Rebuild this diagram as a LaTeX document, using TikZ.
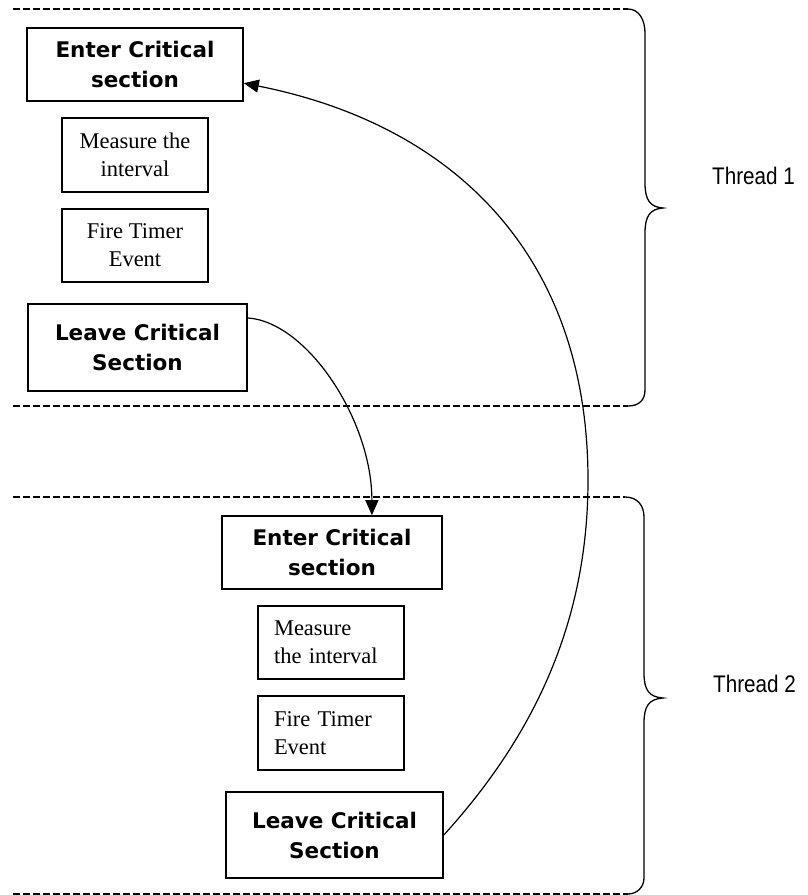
\documentclass[tikz,border=0pt]{standalone}
\usepackage{fontspec}
\setmainfont{Liberation Serif}
\newfontfamily\boxsans{DejaVu Sans}
\newfontfamily\labelsans{Liberation Sans}[FakeStretch=0.86]
\usetikzlibrary{arrows.meta,calc}

\begin{document}
\begin{tikzpicture}[x=1pt,y=-1pt,
  stagebox/.style={draw, line width=1.6pt, inner sep=0pt, align=center},
  keybox/.style={stagebox, font=\boxsans\bfseries\fontsize{21.5}{30}\selectfont},
  stepbox/.style={stagebox, font=\fontsize{22.5}{28}\selectfont},
  leftstep/.style={stepbox, align=left, inner xsep=16pt, text width=114pt},
  flow/.style={line width=1.2pt, -{Triangle[length=15pt,width=13pt]}},
  bound/.style={line width=1.3pt, dash pattern=on 6.5pt off 3.5pt},
  brace/.style={line width=1.3pt},
  threadlabel/.style={anchor=west, inner sep=0pt, font=\labelsans\fontsize{24}{24}\selectfont}]

\useasboundingbox (0,0) rectangle (808,895);

% ---- Thread 1 ----
\node[keybox, minimum width=216pt, minimum height=73pt] (e1) at (135,64.5) {Enter Critical\\section};
\node[stepbox, minimum width=146pt, minimum height=74pt] (m1) at (135,155) {Measure the\\interval};
\node[stepbox, minimum width=146pt, minimum height=73pt] (f1) at (135,245.5) {Fire Timer\\Event};
\node[keybox, minimum width=219pt, minimum height=87pt] (l1) at (137.5,347.5) {Leave Critical\\Section};

\draw[bound] (13,9) -- (628,9);
\draw[brace] (628,9) .. controls (639,9) and (645,20) .. (645,33)
  -- (645,183) .. controls (645,200) and (650,207) .. (663,208)
  .. controls (650,209) and (645,216) .. (645,233)
  -- (645,390) .. controls (645,400) and (639,406) .. (628,406);
\draw[bound] (13,406) -- (628,406);
\node[threadlabel] (t1) at (712,176) {Thread 1};

% ---- Thread 2 ----
\node[keybox, minimum width=220pt, minimum height=73pt] (e2) at (332,552.5) {Enter Critical\\section};
\node[leftstep, minimum height=73pt] (m2) at (331,642.5) {Measure\\the interval};
\node[leftstep, minimum height=74pt] (f2) at (331,733) {Fire Timer\\Event};
\node[keybox, minimum width=217pt, minimum height=86pt] (l2) at (334.5,835) {Leave Critical\\Section};

\draw[bound] (13,497) -- (625,497);
\draw[brace] (625,497) .. controls (637,497) and (644,505) .. (644,517)
  -- (644,673) .. controls (644,690) and (649,697) .. (663,698)
  .. controls (649,699) and (644,706) .. (644,723)
  -- (644,878) .. controls (644,887) and (637,894) .. (628,894);
\draw[bound] (13,894) -- (628,894);
\node[threadlabel] (t2) at (713,684) {Thread 2};

% ---- hand-over arrows ----
\draw[flow] (l1.15) .. controls (307,322) and (372,420)
  .. ($(e2.north west)!0.68!(e2.north east)$);
\coordinate (turn) at (588,480);
\draw[flow] (l2.east) .. controls (543,726) and (588,610) .. (turn)
  .. controls (588,260) and (459,126)
  .. ($(e1.south east)!0.25!(e1.north east)$);

\end{tikzpicture}
\end{document}
